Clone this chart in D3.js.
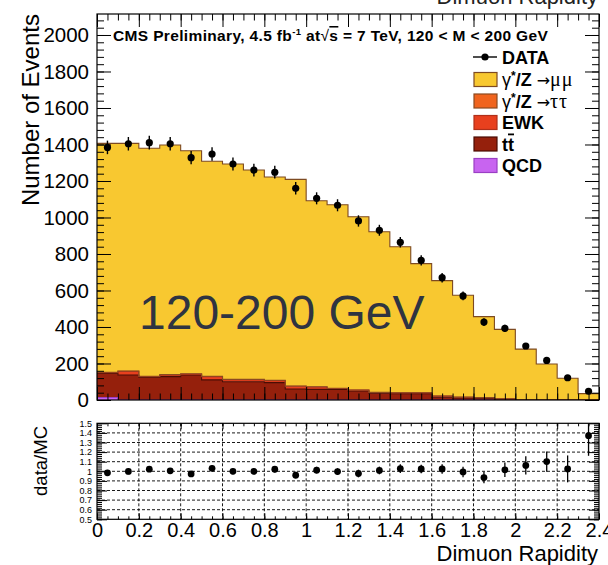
<!DOCTYPE html>
<html>
<head>
<meta charset="utf-8">
<script src="https://cdn.jsdelivr.net/npm/d3@7"></script>
<style>
  body { margin: 0; background: #fff; }
  svg { display: block; font-family: "Liberation Sans", Arial, Helvetica, sans-serif; }
</style>
</head>
<body>
<svg id="chart" width="608" height="565"></svg>
<script>
// ---- Dimuon rapidity, 120 < M < 200 GeV: binned counts (bin width 0.1) ----
const binLow = [0.0, 0.1, 0.2, 0.3, 0.4, 0.5, 0.6, 0.7, 0.8, 0.9, 1.0, 1.1,
                1.2, 1.3, 1.4, 1.5, 1.6, 1.7, 1.8, 1.9, 2.0, 2.1, 2.2, 2.3];
const binWidth = 0.1;

const dataCounts = [1384, 1404, 1410, 1404, 1328, 1348, 1293, 1260, 1248, 1160, 1105, 1067,
                    981, 930, 864, 765, 670, 570, 427, 393, 296, 217, 122, 48];
const dataErrors = [37, 37, 38, 37, 36, 37, 36, 35, 35, 34, 33, 33,
                    31, 30, 29, 28, 26, 24, 21, 20, 17, 15, 11, 7];

// Simulated contributions, stacked bottom to top
const mcQCD    = [14, 0, 0, 0, 0, 0, 0, 0, 0, 0, 0, 0,
                  0, 0, 0, 0, 0, 0, 0, 0, 0, 0, 0, 0];
const mcTTbar  = [132, 137, 124, 128, 137, 110, 100, 100, 95, 60, 58, 58,
                  49, 37, 35, 35, 15, 11, 8, 4, 2, 1, 0, 0];
const mcEWK    = [4, 20, 4, 9, 5, 18, 11, 11, 11, 15, 13, 5,
                  5, 4, 4, 4, 6, 4, 4, 3, 1, 1, 1, 1];
const mcTauTau = [2, 2, 2, 2, 2, 2, 2, 2, 2, 2, 2, 1,
                  1, 1, 1, 1, 1, 1, 1, 0, 0, 0, 0, 0];
const mcMuMu   = [1254, 1247, 1249, 1258, 1222, 1178, 1180, 1147, 1114, 1132, 1019, 1006,
                  949, 880, 800, 707, 632, 558, 444, 380, 276, 195, 118, 34];

// Uncertainty on data/MC per bin
const ratioErrors = [0.03, 0.03, 0.03, 0.03, 0.03, 0.03, 0.03, 0.03, 0.035, 0.035, 0.035, 0.035,
                     0.04, 0.04, 0.045, 0.045, 0.05, 0.055, 0.06, 0.075, 0.095, 0.105, 0.14, 0.21];

// Axis ticks
const xTicks = [0, 0.2, 0.4, 0.6, 0.8, 1, 1.2, 1.4, 1.6, 1.8, 2, 2.2, 2.4];
const xTickLabels = ["0", "0.2", "0.4", "0.6", "0.8", "1", "1.2", "1.4", "1.6", "1.8", "2", "2.2", "2.4"];
const yTicks = [0, 200, 400, 600, 800, 1000, 1200, 1400, 1600, 1800, 2000];
const ratioTicks = [0.5, 0.6, 0.7, 0.8, 0.9, 1, 1.1, 1.2, 1.3, 1.4, 1.5];
const ratioTickLabels = ["0.5", "0.6", "0.7", "0.8", "0.9", "1", "1.1", "1.2", "1.3", "1.4", "1.5"];

// Components in stacking order, bottom to top
const components = [
  { key: "qcd",    values: mcQCD,    fill: "#c864f0", stroke: "#9a3fc4" },
  { key: "ttbar",  values: mcTTbar,  fill: "#95200c", stroke: "#4a0d04" },
  { key: "ewk",    values: mcEWK,    fill: "#e8401e", stroke: "#b0301a" },
  { key: "tautau", values: mcTauTau, fill: "#f0641e", stroke: "#8b4a20" },
  { key: "mumu",   values: mcMuMu,   fill: "#f8c830", stroke: "#7d4a22" }
];

// ---- Layout ----
const svg = d3.select("#chart");
const left = 97, right = 599;
const mainTop = 14, mainBottom = 400;
const ratioTop = 423.3, ratioBottom = 519.3;

const x = d3.scaleLinear().domain([0, 2.4]).range([left, right]);
const y = d3.scaleLinear().domain([0, 2115]).range([mainBottom, mainTop]);
const yr = d3.scaleLinear().domain([0.5, 1.5]).range([ratioBottom, ratioTop]);

svg.append("defs").append("clipPath").attr("id", "mainClip")
  .append("rect").attr("x", left).attr("y", mainTop)
  .attr("width", right - left).attr("height", mainBottom - mainTop);

// ---- Stacked MC histograms ----
const rows = binLow.map((lo, i) => {
  const r = { lo };
  components.forEach(c => r[c.key] = c.values[i]);
  return r;
});
const stack = d3.stack().keys(components.map(c => c.key));
const layers = stack(rows);

// expand each bin into its two edges so the area becomes a step shape
function stepPoints(layer) {
  const pts = [];
  layer.forEach((d, i) => {
    pts.push({ x: binLow[i], y0: d[0], y1: d[1] });
    pts.push({ x: binLow[i] + binWidth, y0: d[0], y1: d[1] });
  });
  return pts;
}
const area = d3.area().x(d => x(d.x)).y0(d => y(d.y0)).y1(d => y(d.y1));
const topLine = d3.line().x(d => x(d.x)).y(d => y(d.y1));

const gHist = svg.append("g").attr("clip-path", "url(#mainClip)");
layers.forEach((layer, li) => {
  gHist.append("path").attr("d", area(stepPoints(layer))).attr("fill", components[li].fill);
});
layers.forEach((layer, li) => {
  gHist.append("path").attr("d", topLine(stepPoints(layer)))
    .attr("fill", "none").attr("stroke", components[li].stroke).attr("stroke-width", 1.1);
});

// ---- Big mass-window label ----
svg.append("text").attr("x", 139).attr("y", 329)
  .attr("font-size", 48).attr("fill", "#2f3441")
  .text("120-200 GeV");

// ---- Axes helpers ----
function styleAxis(g) {
  g.select(".domain").remove();
  g.selectAll(".tick line").attr("stroke", "#000").attr("stroke-width", 1);
}
const yMinor = d3.range(0, 2115, 40);
const xMinor = d3.range(0, 2.401, 0.05);

// main panel: left
svg.append("g").attr("transform", `translate(${left},0)`)
  .call(d3.axisLeft(y).tickValues(yMinor).tickSize(-7).tickFormat("")).call(styleAxis);
svg.append("g").attr("transform", `translate(${left},0)`)
  .call(d3.axisLeft(y).tickValues(yTicks).tickSize(-14).tickPadding(8)
    .tickFormat(d => String(d)))
  .call(styleAxis)
  .call(g => g.selectAll("text").attr("font-size", 20.5).attr("fill", "#000")
    .attr("font-family", "Liberation Sans, Arial, sans-serif"));
// main panel: right
svg.append("g").attr("transform", `translate(${right},0)`)
  .call(d3.axisRight(y).tickValues(yMinor).tickSize(-7).tickFormat("")).call(styleAxis);
svg.append("g").attr("transform", `translate(${right},0)`)
  .call(d3.axisRight(y).tickValues(yTicks).tickSize(-14).tickFormat("")).call(styleAxis);
// main panel: bottom & top
[[mainBottom, d3.axisBottom], [mainTop, d3.axisTop]].forEach(([yy, ax]) => {
  svg.append("g").attr("transform", `translate(0,${yy})`)
    .call(ax(x).tickValues(xMinor).tickSize(-6.5).tickFormat("")).call(styleAxis);
  svg.append("g").attr("transform", `translate(0,${yy})`)
    .call(ax(x).tickValues(xTicks).tickSize(-13).tickFormat("")).call(styleAxis);
});

svg.append("rect").attr("x", left).attr("y", mainTop)
  .attr("width", right - left).attr("height", mainBottom - mainTop)
  .attr("fill", "none").attr("stroke", "#000").attr("stroke-width", 1.2);

// ---- Data points (main panel) ----
const gData = svg.append("g");
binLow.forEach((lo, i) => {
  const cx = x(lo + binWidth / 2);
  gData.append("line").attr("x1", cx).attr("x2", cx)
    .attr("y1", y(dataCounts[i] - dataErrors[i])).attr("y2", y(dataCounts[i] + dataErrors[i]))
    .attr("stroke", "#000").attr("stroke-width", 1.4);
  gData.append("circle").attr("cx", cx).attr("cy", y(dataCounts[i])).attr("r", 3.6).attr("fill", "#000");
});

// ---- Header ----
const header = svg.append("text").attr("x", 113).attr("y", 41)
  .attr("font-size", 15.5).attr("font-weight", "bold").attr("letter-spacing", 0.35)
  .attr("fill", "#000");
header.append("tspan").text("CMS Preliminary, 4.5 fb");
header.append("tspan").attr("font-size", 9.5).attr("dy", -6.5).text("-1");
header.append("tspan").attr("dy", 6.5).text(" at");
header.append("tspan").attr("font-weight", "normal").text("\u221A");
header.append("tspan").attr("style", "text-decoration: overline").text("s");
header.append("tspan").text(" = 7 TeV, 120 < M < 200 GeV");

// Axis title of the panel above, cut by the page edge
svg.append("text").attr("x", 598).attr("y", 4).attr("text-anchor", "end")
  .attr("font-size", 22).attr("fill", "#222").text("Dimuon Rapidity");

// ---- Legend ----
const lg = svg.append("g").attr("font-size", 18).attr("font-weight", "bold").attr("fill", "#000");
lg.append("line").attr("x1", 473).attr("x2", 497).attr("y1", 57).attr("y2", 57)
  .attr("stroke", "#000").attr("stroke-width", 1.4);
lg.append("circle").attr("cx", 485).attr("cy", 57).attr("r", 3.6).attr("fill", "#000");
lg.append("text").attr("x", 502).attr("y", 63.5).text("DATA");

const legendOrder = ["mumu", "tautau", "ewk", "ttbar", "qcd"];
legendOrder.forEach((k, i) => {
  const c = components.find(cc => cc.key === k);
  const cy = 79.5 + i * 21.5;
  lg.append("rect").attr("x", 474).attr("y", cy - 7).attr("width", 23).attr("height", 14)
    .attr("fill", c.fill).attr("stroke", c.stroke).attr("stroke-width", 1.2);
  const t = lg.append("text").attr("x", 502).attr("y", cy + 6.5);
  if (k === "mumu" || k === "tautau") {
    t.append("tspan").attr("font-weight", "normal").text("\u03B3");
    t.append("tspan").attr("font-size", 12).attr("dy", -6).text("*");
    t.append("tspan").attr("dy", 6).text("/Z ");
    t.append("tspan").attr("font-weight", "normal").attr("font-family", "DejaVu Sans, sans-serif")
      .attr("font-size", 16).text("\u2192");
    t.append("tspan").attr("font-weight", "normal").attr("font-family", "Liberation Serif, Times New Roman, serif")
      .attr("font-size", 20).attr("letter-spacing", 1).text(k === "mumu" ? "\u03BC\u03BC" : "\u03C4\u03C4");
  } else if (k === "ewk") {
    t.text("EWK");
  } else if (k === "ttbar") {
    t.append("tspan").text("t");
    t.append("tspan").attr("style", "text-decoration: overline").text("t");
  } else {
    t.text("QCD");
  }
});

// ---- Ratio panel ----
const ratios = dataCounts.map((d, i) => d / d3.sum(components, c => c.values[i]));

const gGrid = svg.append("g").attr("stroke", "#000").attr("stroke-width", 0.9)
  .attr("stroke-dasharray", "3,2");
ratioTicks.slice(1, -1).forEach(v => {
  gGrid.append("line").attr("x1", left).attr("x2", right).attr("y1", yr(v)).attr("y2", yr(v));
});
xTicks.slice(1, -1).forEach(v => {
  gGrid.append("line").attr("x1", x(v)).attr("x2", x(v)).attr("y1", ratioTop).attr("y2", ratioBottom);
});

const rMinor = d3.range(0.5, 1.501, 0.02);
svg.append("g").attr("transform", `translate(${left},0)`)
  .call(d3.axisLeft(yr).tickValues(rMinor).tickSize(-5).tickFormat("")).call(styleAxis);
svg.append("g").attr("transform", `translate(${left},0)`)
  .call(d3.axisLeft(yr).tickValues(ratioTicks).tickSize(-10).tickPadding(5)
    .tickFormat((d, i) => ratioTickLabels[i]))
  .call(styleAxis)
  .call(g => g.selectAll("text").attr("font-size", 9).attr("fill", "#000")
    .attr("font-family", "Liberation Sans, Arial, sans-serif"));
svg.append("g").attr("transform", `translate(${right},0)`)
  .call(d3.axisRight(yr).tickValues(rMinor).tickSize(-5).tickFormat("")).call(styleAxis);
svg.append("g").attr("transform", `translate(${right},0)`)
  .call(d3.axisRight(yr).tickValues(ratioTicks).tickSize(-10).tickFormat("")).call(styleAxis);
svg.append("g").attr("transform", `translate(0,${ratioTop})`)
  .call(d3.axisTop(x).tickValues(xMinor).tickSize(-3).tickFormat("")).call(styleAxis);
svg.append("g").attr("transform", `translate(0,${ratioTop})`)
  .call(d3.axisTop(x).tickValues(xTicks).tickSize(-6).tickFormat("")).call(styleAxis);
svg.append("g").attr("transform", `translate(0,${ratioBottom})`)
  .call(d3.axisBottom(x).tickValues(xMinor).tickSize(-3).tickFormat("")).call(styleAxis);
svg.append("g").attr("transform", `translate(0,${ratioBottom})`)
  .call(d3.axisBottom(x).tickValues(xTicks).tickSize(-6).tickPadding(3)
    .tickFormat((d, i) => xTickLabels[i]))
  .call(styleAxis)
  .call(g => g.selectAll("text").attr("font-size", 20).attr("fill", "#000")
    .attr("font-family", "Liberation Sans, Arial, sans-serif"));

svg.append("rect").attr("x", left).attr("y", ratioTop)
  .attr("width", right - left).attr("height", ratioBottom - ratioTop)
  .attr("fill", "none").attr("stroke", "#000").attr("stroke-width", 1.2);

const gRatio = svg.append("g");
binLow.forEach((lo, i) => {
  const cx = x(lo + binWidth / 2);
  gRatio.append("line").attr("x1", cx).attr("x2", cx)
    .attr("y1", yr(ratios[i] - ratioErrors[i])).attr("y2", yr(Math.min(ratios[i] + ratioErrors[i], 1.5)))
    .attr("stroke", "#000").attr("stroke-width", 1.3);
  gRatio.append("circle").attr("cx", cx).attr("cy", yr(ratios[i])).attr("r", 3.4).attr("fill", "#000");
});

// Axis titles
svg.append("text").attr("transform", "translate(39,14) rotate(-90)")
  .attr("text-anchor", "end").attr("font-size", 24).attr("fill", "#000")
  .text("Number of Events");
svg.append("text").attr("transform", "translate(47,426) rotate(-90)")
  .attr("text-anchor", "end").attr("font-size", 18.5).attr("fill", "#000")
  .text("data/MC");
svg.append("text").attr("x", 598).attr("y", 561).attr("text-anchor", "end")
  .attr("font-size", 22).attr("fill", "#000")
  .text("Dimuon Rapidity");
</script>
</body>
</html>
